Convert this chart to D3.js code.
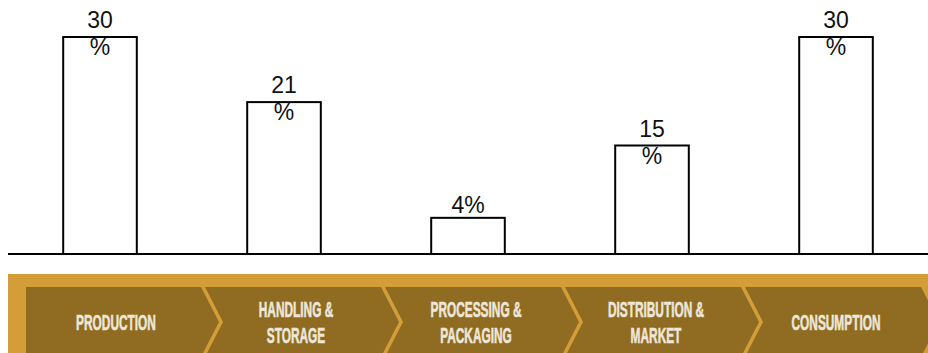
<!DOCTYPE html>
<html>
<head>
<meta charset="utf-8">
<script src="https://cdn.jsdelivr.net/npm/d3@7"></script>
<style>
    body { margin: 0; background: #fff; }
    svg { display: block; }
</style>
</head>
<body>
<svg id="Target" width="928" height="353"></svg>
<script>

// stages of the food chain, share of loss in each
const stages = ["PRODUCTION", "HANDLING & STORAGE", "PROCESSING & PACKAGING", "DISTRIBUTION & MARKET", "CONSUMPTION"];
const stageLines = [["PRODUCTION"], ["HANDLING &", "STORAGE"], ["PROCESSING &", "PACKAGING"], ["DISTRIBUTION &", "MARKET"], ["CONSUMPTION"]];
const shares = [30, 21, 4, 15, 30];
// bar heights as drawn in the picture (the 4% bar is drawn a bit taller)
const barHeights = [30, 21, 5, 15, 30];

const width = 928;
const height = 353;
const baseline = 254;

const svg = d3.select("#Target");

const x = d3.scaleBand()
    .domain(stages)
    .range([8, width])
    .paddingInner(0.6)
    .paddingOuter(0.3);

const y = d3.scaleLinear()
    .domain([0, 30])
    .range([baseline, 37]);

const bars = svg
    .selectAll("rect.bar")
    .data(stages)
    .enter()
    .append("rect")
    .attr("class", "bar")
    .attr("x", (d) => x(d))
    .attr("y", (d, i) => y(barHeights[i]))
    .attr("width", x.bandwidth())
    .attr("height", (d, i) => baseline - y(barHeights[i]))
    .attr("fill", "#fff")
    .attr("stroke", "#000")
    .attr("stroke-width", 2);

svg.append("line")
    .attr("x1", 8)
    .attr("x2", width)
    .attr("y1", baseline)
    .attr("y2", baseline)
    .attr("stroke", "#000")
    .attr("stroke-width", 2);

// value labels, the two digit ones wrap the % onto a second line
const labels = svg
    .selectAll("text.value")
    .data(stages)
    .enter()
    .append("text")
    .attr("class", "value")
    .attr("text-anchor", "middle")
    .attr("font-family", "Liberation Sans, Arial, sans-serif")
    .attr("font-size", 23)
    .attr("fill", "#111");

labels.each(function (d, i) {

    const t = d3.select(this);
    const cx = x(d) + x.bandwidth() / 2;
    const barTop = y(barHeights[i]);

    if (String(shares[i]).length > 1) {

        t.append("tspan").attr("x", cx).attr("y", barTop - 9).text(shares[i]);
        t.append("tspan").attr("x", cx).attr("y", barTop + 18).text("%");
    } else {

        t.append("tspan").attr("x", cx).attr("y", barTop - 5).text(shares[i] + "%");
    }
});

// banner with chevrons
const banner = svg.append("g");

banner.append("rect")
    .attr("x", 8)
    .attr("y", 274)
    .attr("width", width - 8)
    .attr("height", height - 274)
    .attr("fill", "#D39D37");

const seg = d3.scaleBand()
    .domain(stages)
    .range([23, 923]);

const segTop = 287;
const segMid = 322;
const segBottom = 357;
const tip = 18;
const gap = 2;

banner
    .selectAll("path.chevron")
    .data(stages)
    .enter()
    .append("path")
    .attr("class", "chevron")
    .attr("fill", "#8F6C22")
    .attr("d", (d, i) => {

        const l = i === 0 ? 26 : seg(d) + gap;
        const r = seg(d) + seg.bandwidth() - gap;
        const pts = [[l, segTop], [r, segTop], [r + tip, segMid], [r, segBottom], [l, segBottom]];
        if (i > 0) {
            pts.push([l + tip, segMid]);
        }
        return d3.line()(pts) + "Z";
    });

const stageText = banner
    .selectAll("g.stage")
    .data(stages)
    .enter()
    .append("g")
    .attr("class", "stage")
    .attr("transform", (d) => `translate(${seg(d) + seg.bandwidth() / 2 + 3}, ${segMid}) scale(0.54, 1)`);

stageText.each(function (d, i) {

    const lines = stageLines[i];
    const lineH = 27;
    const y0 = 8 - (lines.length - 1) * lineH / 2;

    d3.select(this)
        .selectAll("text")
        .data(lines)
        .enter()
        .append("text")
        .attr("text-anchor", "middle")
        .attr("y", (t, j) => y0 + j * lineH)
        .attr("font-family", "Liberation Sans Narrow, Arial Narrow, sans-serif")
        .attr("font-weight", "bold")
        .attr("font-size", 22)
        .attr("fill", "#EEE7D9")
        .attr("stroke", "#EEE7D9")
        .attr("stroke-width", 0.6)
        .text((t) => t);
});

</script>
</body>
</html>
